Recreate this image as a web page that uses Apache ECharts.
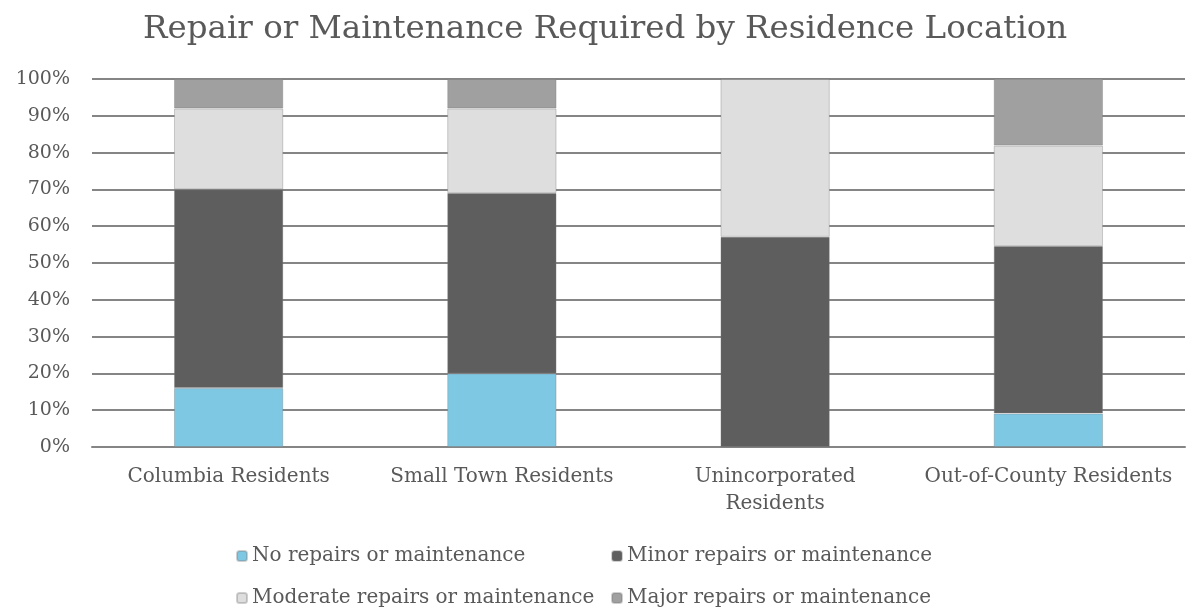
<!DOCTYPE html>
<html>
<head>
<meta charset="utf-8">
<script src="https://cdn.jsdelivr.net/npm/echarts@6/dist/echarts.min.js"></script>
<style>
  html, body { margin: 0; padding: 0; background: #ffffff; }
  #chart { width: 1187px; height: 614px; }
</style>
</head>
<body>
<div id="chart"></div>
<script>
// Residence groups along the x axis
const categories = ['Columbia Residents', 'Small Town Residents', 'Unincorporated\nResidents', 'Out-of-County Residents'];

// Share of respondents (%) in each repair level, per residence group
const noRepairs       = [16, 20, 0, 9.1];
const minorRepairs    = [54, 49, 57.1, 45.5];
const moderateRepairs = [22, 23, 42.9, 27.3];
const majorRepairs    = [8, 8, 0, 18.2];

const seriesNames = [
  'No repairs or maintenance',
  'Minor repairs or maintenance',
  'Moderate repairs or maintenance',
  'Major repairs or maintenance'
];
const seriesValues = [noRepairs, minorRepairs, moderateRepairs, majorRepairs];
const seriesColors = ['#7fc8e4', '#5e5e5e', '#dedede', '#a0a0a0'];

const FONT = 'DejaVu Serif';
const TEXT = '#595959';

const chart = echarts.init(document.getElementById('chart'), null, { renderer: 'canvas' });

const legendText = { fontFamily: FONT, fontSize: 20, color: TEXT };

chart.setOption({
  animation: false,
  backgroundColor: '#ffffff',
  color: seriesColors,
  title: {
    text: 'Repair or Maintenance Required by Residence Location',
    left: 138,
    top: 8,
    textStyle: { fontFamily: FONT, fontSize: 32.5, fontWeight: 'normal', color: TEXT }
  },
  legend: [
    {
      data: [seriesNames[0], seriesNames[2]],
      orient: 'vertical',
      left: 231,
      top: 541,
      itemGap: 22,
      itemWidth: 10,
      itemHeight: 10,
      textStyle: legendText
    },
    {
      data: [seriesNames[1], seriesNames[3]],
      orient: 'vertical',
      left: 606,
      top: 541,
      itemGap: 22,
      itemWidth: 10,
      itemHeight: 10,
      textStyle: legendText
    }
  ],
  grid: { left: 92, right: 2, top: 79, bottom: 167, containLabel: false },
  xAxis: {
    type: 'category',
    data: categories,
    axisLine: { show: true, lineStyle: { color: '#858585', width: 2 } },
    axisTick: { show: false },
    axisLabel: {
      fontFamily: FONT, fontSize: 20, color: TEXT,
      margin: 16, lineHeight: 27, interval: 0
    }
  },
  yAxis: {
    type: 'value',
    min: 0,
    max: 100,
    interval: 10,
    axisLine: { show: false },
    axisTick: { show: false },
    axisLabel: {
      fontFamily: FONT, fontSize: 19, color: TEXT, margin: 22,
      formatter: '{value}%'
    },
    splitLine: { lineStyle: { color: '#858585', width: 2 } }
  },
  series: seriesValues.map((vals, i) => ({
    name: seriesNames[i],
    type: 'bar',
    stack: 'total',
    barWidth: '40%',
    data: vals,
    itemStyle: { color: seriesColors[i], borderColor: 'rgba(120,120,120,0.35)', borderWidth: 1 },
    emphasis: { disabled: true }
  }))
});
</script>
</body>
</html>
